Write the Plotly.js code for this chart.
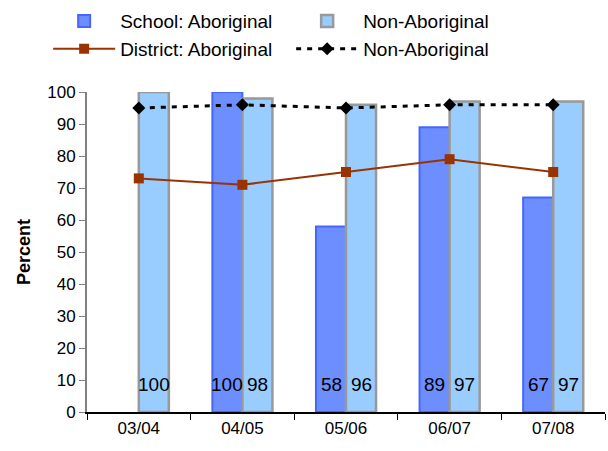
<!DOCTYPE html>
<html><head><meta charset="utf-8">
<script src="https://cdn.plot.ly/plotly-3.0.1.min.js"></script>
<style>body{margin:0}#c{width:608px;height:451px}</style>
</head><body><div id="c"></div>
<script>
var years = ["03/04","04/05","05/06","06/07","07/08"];
var schoolAbor = [null,100,58,89,67];
var schoolNon = [100,98,96,97,97];
var districtAbor = [73,71,75,79,75];
var districtNon = [95,96,95,96,96];
var labelY = 8.5;

var traces = [
 {type:'bar', name:'School: Aboriginal', x:years, y:schoolAbor,
  marker:{color:'#6C8EFF', line:{color:'#4466FF', width:2}}},
 {type:'bar', name:'Non-Aboriginal', x:years, y:schoolNon,
  marker:{color:'#99CCFF', line:{color:'#999999', width:2.5}}},
 {type:'scatter', mode:'lines+markers', name:'District: Aboriginal', x:years, y:districtAbor,
  line:{color:'#993300', width:2}, marker:{symbol:'square', size:10, color:'#993300'}},
 {type:'scatter', mode:'lines+markers', name:'Non-Aboriginal', x:years, y:districtNon,
  line:{color:'#000000', width:3, dash:'5px,6px'}, marker:{symbol:'diamond', size:10, color:'#000000'}}
];

var annotations = [];
years.forEach(function(c,i){
  if (schoolAbor[i] !== null) annotations.push({x:c, y:labelY, xref:'x', yref:'y', text:String(schoolAbor[i]), showarrow:false, xshift:-15, font:{size:19,color:'#000'}});
  if (schoolNon[i] !== null) annotations.push({x:c, y:labelY, xref:'x', yref:'y', text:String(schoolNon[i]), showarrow:false, xshift:15, font:{size:19,color:'#000'}});
});

var layout = {
  width:608, height:451,
  margin:{l:87, r:3, t:91, b:39},
  paper_bgcolor:'#fff', plot_bgcolor:'#fff',
  font:{family:'Liberation Sans, Arial, sans-serif', color:'#000', size:17},
  barmode:'group', bargap:0.42, bargroupgap:0,
  showlegend:true,
  legend:{orientation:'h', x:-0.075, xanchor:'left', y:1.277, yanchor:'top', bgcolor:'rgba(0,0,0,0)',
    font:{size:19}, entrywidth:166, itemwidth:62, tracegroupgap:0, traceorder:'normal'},
  xaxis:{type:'category', tickson:'boundaries', ticks:'outside', ticklen:6, tickcolor:'#000',
    showline:true, linecolor:'#000', linewidth:1.5, showgrid:false, tickfont:{size:17}, fixedrange:true},
  yaxis:{range:[0,100], dtick:10, ticks:'outside', ticklen:6, tickcolor:'#808080',
    showline:true, linecolor:'#808080', linewidth:2, showgrid:false, zeroline:false,
    tickfont:{size:17}, title:{text:'<b>Percent</b>', font:{size:18}, standoff:12}},
  annotations:annotations
};
Plotly.newPlot('c', traces, layout, {displayModeBar:false, staticPlot:true});
</script></body></html>
